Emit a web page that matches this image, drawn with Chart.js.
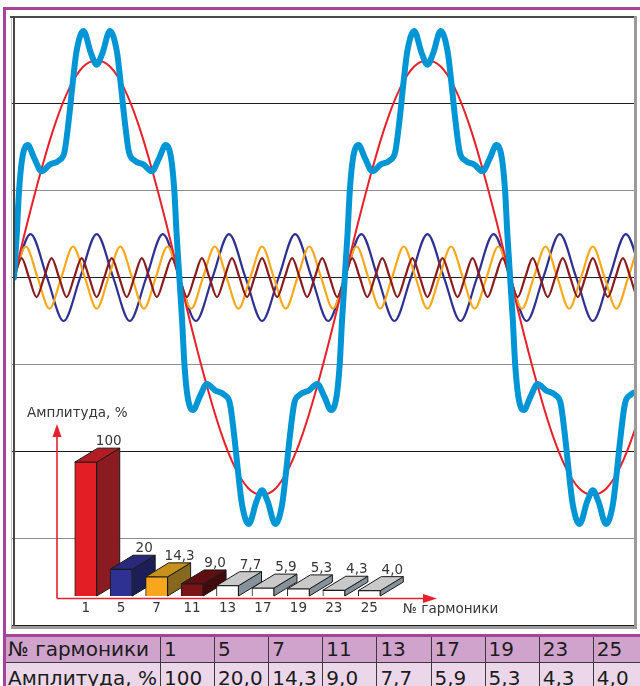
<!DOCTYPE html>
<html><head><meta charset="utf-8">
<script src="https://cdn.jsdelivr.net/npm/chart.js@4.4.1/dist/chart.umd.min.js"></script>
<style>
html,body{margin:0;padding:0;background:#fff;overflow:hidden;}
body{width:640px;height:686px;position:relative;font-family:"DejaVu Sans",sans-serif;}
#main{position:absolute;left:0;top:0;}
#inset{position:absolute;left:0;top:400px;}
.mag{position:absolute;background:#a8439a;}
.cell{position:absolute;box-sizing:border-box;}
.txt{position:absolute;font-size:20px;line-height:20px;color:#1c1c1c;white-space:nowrap;}
</style></head><body>
<div class="mag" style="left:3px;top:7px;width:640px;height:3px"></div>
<div class="mag" style="left:3px;top:7px;width:3px;height:680px"></div>
<canvas id="main" width="640" height="632"></canvas>
<canvas id="inset" width="520" height="220"></canvas>
<div id="table"></div>
<script>
// ---------- data ----------
const harmonicOrders = ['1','5','7','11','13','17','19','23','25'];
const amplitudePct = [100, 20, 14.3, 9.0, 7.7, 5.9, 5.3, 4.3, 4.0];
const insetValueLabels = ['100','20','14,3','9,0','7,7','5,9','5,3','4,3','4,0'];
const tableAmplitudeLabels = ['100','20,0','14,3','9,0','7,7','5,9','5,3','4,3','4,0'];
const tableHeadTitle = '№ гармоники';
const tableRowTitle = 'Амплитуда, %';
const insetYTitle = 'Амплитуда, %';
const insetXTitle = '№ гармоники';

// y grid (percent of fundamental)
const yGridMin = -160, yGridMax = 120, yGridStep = 40;
const xMaxDeg = 677; // visible span, degrees of fundamental

// fundamental (red), read every 15 degrees
const fundamentalStepDeg = 15;
const fundamental = [0,26,50,71,87,97,100,97,87,71,50,26,0,-26,-50,-71,-87,-97,-100,-97,-87,-71,-50,-26,
                     0,26,50,71,87,97,100,97,87,71,50,26,0,-26,-50,-71,-87,-97,-100,-97,-87,-71,-50,-26,0];
// 5th harmonic (navy), zeros and peaks every 18 degrees
const h5StepDeg = 18;
const h5 = [0,20,0,-20, 0,20,0,-20, 0,20,0,-20, 0,20,0,-20, 0,20,0,-20,
            0,20,0,-20, 0,20,0,-20, 0,20,0,-20, 0,20,0,-20, 0,20,0,-20, 0];
// 7th harmonic (orange), zeros and peaks every 12.857 degrees
const h7StepDeg = 12.857;
const h7 = [0,14.3,0,-14.3, 0,14.3,0,-14.3, 0,14.3,0,-14.3, 0,14.3,0,-14.3, 0,14.3,0,-14.3,
            0,14.3,0,-14.3, 0,14.3,0,-14.3, 0,14.3,0,-14.3, 0,14.3,0,-14.3, 0,14.3,0,-14.3,
            0,14.3,0,-14.3, 0,14.3,0,-14.3, 0,14.3,0,-14.3, 0,14.3,0,-14.3, 0];
// 11th harmonic (maroon), zeros and peaks every 8.182 degrees
const h11StepDeg = 8.182;
const h11 = [0,9,0,-9, 0,9,0,-9, 0,9,0,-9, 0,9,0,-9, 0,9,0,-9, 0,9,0,-9, 0,9,0,-9, 0,9,0,-9,
             0,9,0,-9, 0,9,0,-9, 0,9,0,-9, 0,9,0,-9, 0,9,0,-9, 0,9,0,-9, 0,9,0,-9, 0,9,0,-9,
             0,9,0,-9, 0,9,0,-9, 0,9,0,-9, 0,9,0,-9, 0,9,0,-9, 0,9,0,-9, 0];
// resulting current (light blue)
const sumDeg = [0,3,5.5,9,15,22,30,39,49,55,60,64,68,75.5,84,90,96,104.5,112,116,120,125,131,141,150,158,165,171,174.5,177,
  180,183,185.5,189,195,202,210,219,229,235,240,244,248,255.5,264,270,276,284.5,292,296,300,305,311,321,330,338,345,351,354.5,357,
  360,363,365.5,369,375,382,390,399,409,415,420,424,428,435.5,444,450,456,464.5,472,476,480,485,491,501,510,518,525,531,534.5,537,
  540,543,545.5,549,555,562,570,579,589,595,600,604,608,615.5,624,630,636,644.5,652,656,660,665,671,681,690,698,705,711,714.5,717,720];
const sumVal = [0,20,40,55,61,55,49,52,54,58,74,90,104,113.5,103,98,103,113.5,104,90,74,58,54,52,49,55,61,55,40,20,
  0,-20,-40,-55,-61,-55,-49,-52,-54,-58,-74,-90,-104,-113.5,-103,-98,-103,-113.5,-104,-90,-74,-58,-54,-52,-49,-55,-61,-55,-40,-20,
  0,20,40,55,61,55,49,52,54,58,74,90,104,113.5,103,98,103,113.5,104,90,74,58,54,52,49,55,61,55,40,20,
  0,-20,-40,-55,-61,-55,-49,-52,-54,-58,-74,-90,-104,-113.5,-103,-98,-103,-113.5,-104,-90,-74,-58,-54,-52,-49,-55,-61,-55,-40,-20,0];

// ---------- styles ----------
const barFront = ['#e31e25','#2e3192','#f8a71c','#7b1416','#ffffff','#ffffff','#ffffff','#ffffff','#ffffff'];
const barTop   = ['#b31c22','#28297a','#c6911c','#5f0f11','#c9c9c9','#c9c9c9','#c9c9c9','#c9c9c9','#c9c9c9'];
const barSide  = ['#8a1b20','#1d1e55','#86681e','#430a0b','#85929a','#85929a','#85929a','#85929a','#85929a'];

const stepped = (arr, step) => arr.map((v, i) => ({x: i * step, y: v}));

const framePlugin = {
  id: 'frame',
  afterDraw(chart) {
    const c = chart.ctx;
    c.save();
    c.fillStyle = '#c4c4c4'; c.fillRect(11, 16, 1, 612);
    c.fillStyle = '#4a4a4a'; c.fillRect(10, 16, 626, 2);
    c.fillStyle = '#454545'; c.fillRect(13, 16, 2, 612);
    c.fillStyle = '#9b9b9b'; c.fillRect(634, 16, 3, 613);
    c.fillStyle = '#9b9b9b'; c.fillRect(11, 626, 626, 3);
    c.restore();
  }
};

new Chart(document.getElementById('main'), {
  type: 'line',
  data: {
    datasets: [
      {data: sumDeg.map((d, i) => ({x: d, y: sumVal[i]})), borderColor: '#0096d6', borderWidth: 6,
       cubicInterpolationMode: 'monotone', borderJoinStyle: 'round', borderCapStyle: 'round', order: 0},
      {data: stepped(fundamental, fundamentalStepDeg), borderColor: '#e8202a', borderWidth: 2, tension: 0.4, order: 1},
      {data: stepped(h11, h11StepDeg), borderColor: '#8b1c1e', borderWidth: 2.2, cubicInterpolationMode: 'monotone', order: 2},
      {data: stepped(h7, h7StepDeg), borderColor: '#f9a81b', borderWidth: 2.2, cubicInterpolationMode: 'monotone', order: 3},
      {data: stepped(h5, h5StepDeg), borderColor: '#2e3192', borderWidth: 2.2, cubicInterpolationMode: 'monotone', order: 4}
    ]
  },
  options: {
    responsive: false, animation: false, events: [],
    layout: {padding: {left: 14, right: 4, top: 17, bottom: 7}},
    elements: {point: {radius: 0}},
    scales: {
      x: {type: 'linear', min: 0, max: xMaxDeg, display: false},
      y: {type: 'linear', min: yGridMin, max: yGridMax,
          ticks: {display: false, stepSize: yGridStep},
          border: {display: false},
          grid: {tickLength: 3, lineWidth: 1,
                 color: ctx => (Math.round(ctx.tick.value / yGridStep) % 2 === 0) ? '#1e1e1e' : '#8c8c8c'},
          afterFit: s => { s.width = 0; }}
    },
    plugins: {legend: {display: false}, tooltip: {enabled: false}}
  },
  plugins: [framePlugin]
});

// ---------- inset 3D bar chart ----------
const DX = 23, DY = -14;
const bar3d = {
  id: 'bar3d',
  beforeDatasetsDraw(chart) {
    const c = chart.ctx, area = chart.chartArea;
    const ax = area.left - 11, ay = area.bottom + 2.5;
    c.save();
    c.strokeStyle = '#e8202a'; c.fillStyle = '#e8202a'; c.lineWidth = 1.6;
    c.beginPath(); c.moveTo(ax, ay); c.lineTo(ax, area.top + 12); c.stroke();
    c.beginPath(); c.moveTo(ax, area.top + 2); c.lineTo(ax - 4.5, area.top + 15); c.lineTo(ax + 4.5, area.top + 15); c.closePath(); c.fill();
    const ex = area.right + 50;
    c.beginPath(); c.moveTo(ax, ay); c.lineTo(ex - 10, ay); c.stroke();
    c.beginPath(); c.moveTo(ex, ay); c.lineTo(ex - 14, ay - 4.5); c.lineTo(ex - 14, ay + 4.5); c.closePath(); c.fill();
    const meta = chart.getDatasetMeta(0);
    c.strokeStyle = '#1a1a1a'; c.lineWidth = 1; c.lineJoin = 'round';
    meta.data.forEach((bar, i) => {
      const {x, y, base, width} = bar.getProps(['x', 'y', 'base', 'width'], true);
      const l = x - width / 2, r = x + width / 2;
      c.fillStyle = barSide[i];
      c.beginPath(); c.moveTo(r, y); c.lineTo(r + DX, y + DY); c.lineTo(r + DX, base + DY); c.lineTo(r, base); c.closePath(); c.fill(); c.stroke();
      c.fillStyle = barTop[i];
      c.beginPath(); c.moveTo(l, y); c.lineTo(l + DX, y + DY); c.lineTo(r + DX, y + DY); c.lineTo(r, y); c.closePath(); c.fill(); c.stroke();
    });
    c.restore();
  },
  afterDatasetsDraw(chart) {
    const c = chart.ctx, area = chart.chartArea;
    const meta = chart.getDatasetMeta(0);
    const xs = chart.scales.x;
    c.save();
    c.font = '13.5px "DejaVu Sans", sans-serif';
    c.fillStyle = '#363636';
    c.textAlign = 'center'; c.textBaseline = 'alphabetic';
    meta.data.forEach((bar, i) => {
      const {x, y} = bar.getProps(['x', 'y'], true);
      c.fillText(insetValueLabels[i], x + DX, y - 17);
      c.fillText(chart.data.labels[i], xs.getPixelForTick(i), area.bottom + 16);
    });
    c.textAlign = 'left';
    c.fillText(insetYTitle, area.left - 41, area.top - 5);
    c.fillText(insetXTitle, area.right + 16, area.bottom + 17);
    c.restore();
  }
};

new Chart(document.getElementById('inset'), {
  type: 'bar',
  data: {labels: harmonicOrders,
         datasets: [{data: amplitudePct, backgroundColor: barFront, borderColor: '#1a1a1a', borderWidth: 1, barThickness: 22}]},
  options: {
    responsive: false, animation: false, events: [],
    layout: {padding: {left: 68, right: 133, top: 22, bottom: 24}},
    scales: {x: {display: false}, y: {display: false, min: 0, max: 130}},
    plugins: {legend: {display: false}, tooltip: {enabled: false}}
  },
  plugins: [bar3d]
});

// ---------- table ----------
const tbl = document.getElementById('table');
function addDiv(cls, style, text) {
  const d = document.createElement('div');
  d.className = cls; d.setAttribute('style', style);
  if (text !== undefined) d.textContent = text;
  tbl.appendChild(d);
}
const firstDivider = 160, colW = 54.1;
addDiv('mag', 'left:3px;top:634px;width:640px;height:3px');
addDiv('cell', 'left:6px;top:637px;width:640px;height:25px;background:#cfa3cb');
addDiv('cell', 'left:6px;top:662px;width:640px;height:1px;background:#3a3a3a');
addDiv('cell', 'left:6px;top:663px;width:640px;height:24px;background:#ebd7e9');
addDiv('txt', 'left:8px;top:639px', tableHeadTitle);
addDiv('txt', 'left:8px;top:668px', tableRowTitle);
harmonicOrders.forEach((h, i) => {
  const x = firstDivider + i * colW;
  addDiv('cell', `left:${x}px;top:637px;width:1px;height:50px;background:#3a3a3a`);
  addDiv('txt', `left:${x + 4}px;top:639px`, h);
  addDiv('txt', `left:${x + 4}px;top:668px`, tableAmplitudeLabels[i]);
});
</script>
</body></html>
